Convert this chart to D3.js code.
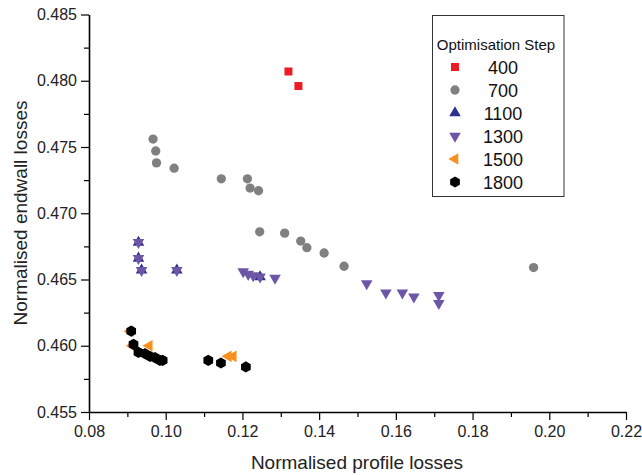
<!DOCTYPE html>
<html><head><meta charset="utf-8">
<script src="https://cdn.jsdelivr.net/npm/d3@7"></script>
<style>
html,body{margin:0;padding:0;background:#fff;}
svg{display:block;font-family:"Liberation Sans",Arial,Helvetica,sans-serif;}
</style></head>
<body>
<svg id="chart" width="642" height="475"></svg>
<script>
const xTicks = [0.08,0.10,0.12,0.14,0.16,0.18,0.20,0.22];
const yTicks = [0.455,0.460,0.465,0.470,0.475,0.480,0.485];
const legendTitle = "Optimisation Step";
const steps = ["400","700","1100","1300","1500","1800"];

const s400x = [0.1320,0.1346];
const s400y = [0.4807,0.4796];
const s700x = [0.0967,0.0974,0.0976,0.1022,0.1145,0.1213,0.1220,0.1242,0.1245,0.1310,0.1352,0.1368,0.1413,0.1465,0.1959];
const s700y = [0.4756,0.4747,0.4738,0.4734,0.4726,0.4726,0.4719,0.4717,0.4686,0.4685,0.4679,0.4674,0.4670,0.4660,0.4659];
const s1100x = [0.0929,0.0929,0.0937,0.1029,0.1246];
const s1100y = [0.4678,0.4666,0.4657,0.4657,0.4652];
const s1300x = [0.0929,0.0929,0.0937,0.1029,0.1202,0.1215,0.1228,0.1246,0.1285,0.1524,0.1574,0.1617,0.1647,0.1712,0.1712];
const s1300y = [0.4678,0.4666,0.4657,0.4657,0.4656,0.4654,0.4653,0.4652,0.4651,0.4647,0.4640,0.4640,0.4637,0.4638,0.4632];
const s1500x = [0.0907,0.0913,0.0957,0.1163,0.1176];
const s1500y = [0.4611,0.4600,0.4600,0.4592,0.4592];
const s1800x = [0.0910,0.0916,0.0929,0.0946,0.0959,0.0972,0.0985,0.0992,0.1111,0.1144,0.1209];
const s1800y = [0.4611,0.4601,0.4595,0.4594,0.4592,0.4591,0.4589,0.4589,0.4589,0.4587,0.4584];

const svg = d3.select("#chart");
const x = d3.scaleLinear().domain([0.08,0.22]).range([89,626]);
const y = d3.scaleLinear().domain([0.455,0.485]).range([412,14.5]);

// minor ticks
const xMinor = d3.range(0.09,0.22,0.02);
const yMinor = d3.range(0.4575,0.485,0.005);
svg.append("g").attr("transform","translate(0,412)")
  .call(d3.axisBottom(x).tickValues(xMinor).tickSize(5).tickFormat(""))
  .call(g=>g.select(".domain").remove())
  .call(g=>g.selectAll("line").attr("stroke","#000").attr("stroke-width",1.2));
svg.append("g").attr("transform","translate(89,0)")
  .call(d3.axisLeft(y).tickValues(yMinor).tickSize(5).tickFormat(""))
  .call(g=>g.select(".domain").remove())
  .call(g=>g.selectAll("line").attr("stroke","#000").attr("stroke-width",1.2));

const xAxis = svg.append("g").attr("transform","translate(0,412)")
  .call(d3.axisBottom(x).tickValues(xTicks).tickSize(8).tickSizeOuter(0).tickFormat(d3.format(".2f")));
const yAxis = svg.append("g").attr("transform","translate(89,0)")
  .call(d3.axisLeft(y).tickValues(yTicks).tickSize(8).tickSizeOuter(0).tickFormat(d3.format(".3f")));
[xAxis,yAxis].forEach(a=>{
  a.select(".domain").attr("stroke","#000").attr("stroke-width",1.6);
  a.selectAll("line").attr("stroke","#000").attr("stroke-width",1.2);
  a.selectAll("text").attr("font-size",16).attr("fill","#222")
    .attr("font-family","'Liberation Sans',Arial,sans-serif");
});
xAxis.selectAll("text").attr("dy","0.85em");
yAxis.selectAll("text").attr("dx","-1px");

svg.append("text").attr("x",357).attr("y",469).attr("text-anchor","middle")
  .attr("font-size",19).attr("fill","#222").text("Normalised profile losses");
svg.append("text").attr("transform","translate(27,213) rotate(-90)").attr("text-anchor","middle")
  .attr("font-size",19).attr("fill","#222").text("Normalised endwall losses");

// symbols
function hexPath(r){
  const pts=d3.range(6).map(i=>{const a=Math.PI/3*i+Math.PI/6;return [r*Math.cos(a),r*Math.sin(a)];});
  return "M"+pts.map(p=>p.join(",")).join("L")+"Z";
}
const tri = d3.symbol().type(d3.symbolTriangle).size(58)();
const shapes = {
  "400": {path:d3.symbol().type(d3.symbolSquare).size(64)(), rot:0, color:"#ED1C24"},
  "700": {path:d3.symbol().type(d3.symbolCircle).size(68)(), rot:0, color:"#808080"},
  "1100":{path:tri, rot:0, color:"#2E3192"},
  "1300":{path:tri, rot:180, color:"#6E56A6"},
  "1500":{path:tri, rot:-90, color:"#F7901E"},
  "1800":{path:hexPath(5.6), rot:0, color:"#000000"}
};
const series = [
  ["700",s700x,s700y],["400",s400x,s400y],["1500",s1500x,s1500y],
  ["1800",s1800x,s1800y],["1100",s1100x,s1100y],["1300",s1300x,s1300y]
];
series.forEach(([k,xs,ys])=>{
  const sh=shapes[k];
  svg.append("g").selectAll("path").data(xs.map((v,i)=>[v,ys[i]])).join("path")
    .attr("d",sh.path).attr("fill",sh.color)
    .attr("transform",d=>`translate(${x(d[0])},${y(d[1])}) rotate(${sh.rot})`);
});

// legend
const lg = svg.append("g");
lg.append("rect").attr("x",432.5).attr("y",15.5).attr("width",131.5).attr("height",181)
  .attr("fill","#fff").attr("stroke","#333").attr("stroke-width",1);
lg.append("text").attr("x",496).attr("y",50).attr("text-anchor","middle")
  .attr("font-size",15).attr("fill","#111").text(legendTitle);
steps.forEach((k,i)=>{
  const cy = 67+i*23;
  const sh=shapes[k];
  lg.append("path").attr("d",sh.path).attr("fill",sh.color)
    .attr("transform",`translate(455,${cy}) rotate(${sh.rot})`);
  lg.append("text").attr("x",503).attr("y",cy+6.5).attr("text-anchor","middle")
    .attr("font-size",18).attr("fill","#111").text(k);
});
</script>
</body></html>
